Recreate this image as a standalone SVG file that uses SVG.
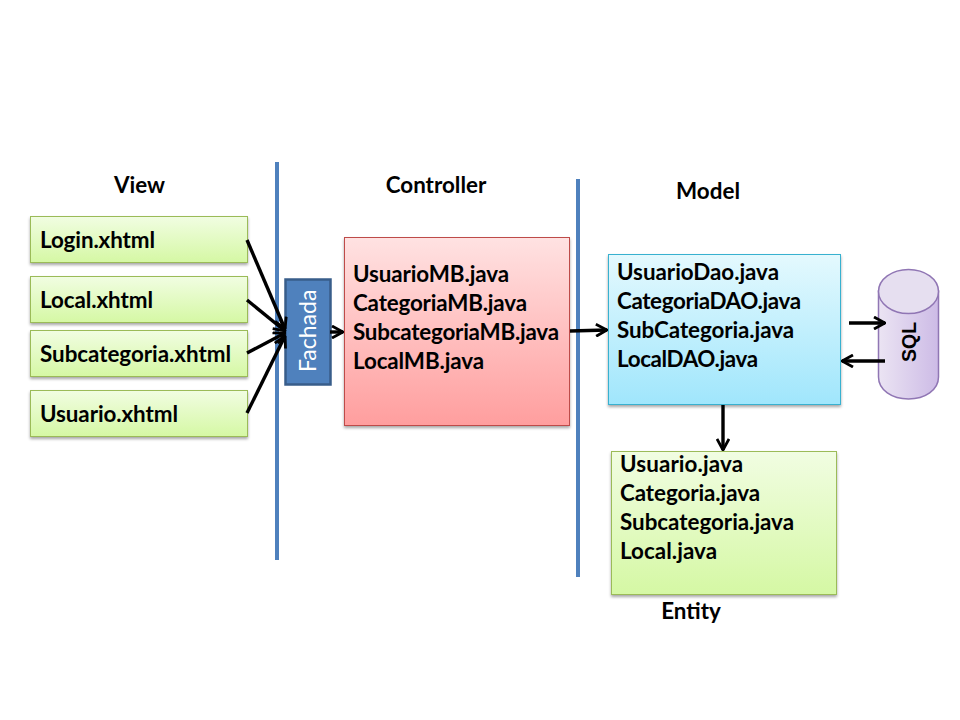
<svg xmlns="http://www.w3.org/2000/svg" width="960" height="720" viewBox="0 0 960 720">
<defs>
<linearGradient id="gGreen" x1="0" y1="0" x2="0" y2="1"><stop offset="0" stop-color="#f1fde2"/><stop offset="1" stop-color="#d5f8a4"/></linearGradient>
<linearGradient id="gRed" x1="0" y1="0" x2="0" y2="1"><stop offset="0" stop-color="#ffe2e2"/><stop offset="1" stop-color="#ff9e9e"/></linearGradient>
<linearGradient id="gBlue" x1="0" y1="0" x2="0" y2="1"><stop offset="0" stop-color="#e4f9fe"/><stop offset="1" stop-color="#a0e6fc"/></linearGradient>
<linearGradient id="gPurple" x1="0" y1="0" x2="1" y2="0"><stop offset="0" stop-color="#ebe4f3"/><stop offset="1" stop-color="#cdbbe6"/></linearGradient>
<filter id="sh" x="-10%" y="-10%" width="120%" height="125%"><feDropShadow dx="0" dy="2" stdDeviation="1.5" flood-color="#000" flood-opacity="0.35"/></filter>
<marker id="arr" viewBox="0 0 14 14" refX="13" refY="7" markerWidth="14" markerHeight="14" markerUnits="userSpaceOnUse" orient="auto"><path d="M2 1L13 7L2 13" fill="none" stroke="#000" stroke-width="2.800"/></marker>
</defs>
<style>
text{font-family:Lato,"Liberation Sans",sans-serif;font-weight:700;font-size:22.400px;fill:#000}
.green{fill:url(#gGreen);stroke:#9bbb59;stroke-width:1;filter:url(#sh)}
.conn{stroke:#000;stroke-width:3.400;fill:none;marker-end:url(#arr)}
.bar{stroke:#4f81bd;stroke-width:4;fill:none}
</style>
<rect width="960" height="720" fill="#fff"/>
<g id="dividers">
<line class="bar" x1="277" y1="162" x2="277" y2="560"/>
<line class="bar" x1="578" y1="179" x2="578" y2="577"/>
</g>
<g id="labels">
<text x="139.500" y="193" text-anchor="middle">View</text>
<text x="436" y="193" text-anchor="middle">Controller</text>
<text x="708" y="199" text-anchor="middle">Model</text>
<text x="691" y="619" text-anchor="middle">Entity</text>
</g>
<g id="login"><rect class="green" x="30.500" y="216.500" width="217" height="46"/><text x="40" y="248" textLength="115" lengthAdjust="spacing">Login.xhtml</text></g>
<g id="local"><rect class="green" x="30.500" y="276.500" width="217" height="46"/><text x="40" y="308" textLength="113" lengthAdjust="spacing">Local.xhtml</text></g>
<g id="subcategoria"><rect class="green" x="30.500" y="330.500" width="217" height="46"/><text x="40" y="362" textLength="191" lengthAdjust="spacing">Subcategoria.xhtml</text></g>
<g id="usuario"><rect class="green" x="30.500" y="390.500" width="217" height="46"/><text x="40" y="422" textLength="138" lengthAdjust="spacing">Usuario.xhtml</text></g>
<g id="fachada"><rect x="285.500" y="279.500" width="45" height="105" fill="#4f81bd" stroke="#385d8a" stroke-width="2.500"/><text transform="translate(316 372) rotate(-90)" style="font-weight:400;fill:#fff;font-size:23px">Fachada</text></g>
<g id="controller"><rect x="344.500" y="237.500" width="225" height="188" fill="url(#gRed)" stroke="#be4b48" stroke-width="1" filter="url(#sh)"/>
<text x="353" y="282" textLength="156" lengthAdjust="spacing">UsuarioMB.java</text><text x="353" y="311" textLength="174" lengthAdjust="spacing">CategoriaMB.java</text><text x="353" y="340" textLength="206" lengthAdjust="spacing">SubcategoriaMB.java</text><text x="353" y="369" textLength="131" lengthAdjust="spacing">LocalMB.java</text></g>
<g id="model"><rect x="608.500" y="254.500" width="232" height="150" fill="url(#gBlue)" stroke="#38b1d0" stroke-width="1" filter="url(#sh)"/>
<text x="617" y="279.500" textLength="162" lengthAdjust="spacing">UsuarioDao.java</text><text x="617" y="308.500" textLength="184" lengthAdjust="spacing">CategoriaDAO.java</text><text x="617" y="337.500" textLength="177" lengthAdjust="spacing">SubCategoria.java</text><text x="617" y="366.500" textLength="141" lengthAdjust="spacing">LocalDAO.java</text></g>
<g id="entity"><rect class="green" x="611.500" y="451.500" width="225" height="143"/>
<text x="620" y="472" textLength="123" lengthAdjust="spacing">Usuario.java</text><text x="620" y="501" textLength="140" lengthAdjust="spacing">Categoria.java</text><text x="620" y="530" textLength="174" lengthAdjust="spacing">Subcategoria.java</text><text x="620" y="559" textLength="97" lengthAdjust="spacing">Local.java</text></g>
<g id="sql">
<path d="M878.500 291V377C878.500 390 892 399 908.500 399S938.500 390 938.500 377V291Z" fill="url(#gPurple)" stroke="#9076b4" stroke-width="1.500"/>
<ellipse cx="908.500" cy="291.500" rx="30" ry="22" fill="#e6dff0" stroke="#9076b4" stroke-width="1.500"/>
<text transform="translate(916 362) rotate(-90)" style="font-weight:700;font-family:'Liberation Sans',sans-serif;font-size:19.500px;stroke:none">SQL</text></g>
<g id="connectors">
<line class="conn" x1="247" y1="240" x2="285" y2="329"/>
<line class="conn" x1="247" y1="300" x2="285" y2="331"/>
<line class="conn" x1="247" y1="353" x2="285" y2="333"/>
<line class="conn" x1="247" y1="413" x2="285" y2="336"/>
<line class="conn" x1="330" y1="332" x2="343" y2="332"/>
<line class="conn" x1="570" y1="331" x2="607" y2="330"/>
<line class="conn" x1="723" y1="405" x2="723" y2="450"/>
<line class="conn" x1="849" y1="323" x2="885" y2="323"/>
<line class="conn" x1="885" y1="361" x2="842" y2="361"/>
</g>
</svg>
